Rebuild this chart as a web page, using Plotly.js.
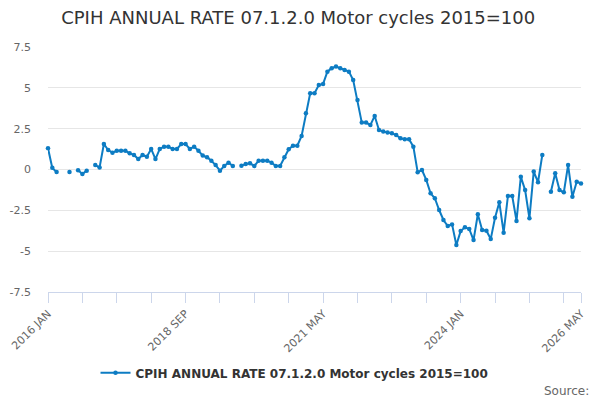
<!DOCTYPE html>
<html>
<head>
<meta charset="utf-8">
<script src="https://cdn.plot.ly/plotly-3.0.1.min.js"></script>
<style>
  html, body { margin: 0; padding: 0; background: #fff; }
  #chart { width: 600px; height: 400px; }
</style>
</head>
<body>
<div id="chart"></div>
<script>
// monthly series, 2016 JAN .. 2026 MAY (null = no figure published)
const startYear = 2016;
const monthNames = ['JAN','FEB','MAR','APR','MAY','JUN','JUL','AUG','SEP','OCT','NOV','DEC'];

const values = [
  1.3, 0.1, -0.15, null, null, -0.15, null, -0.05, -0.28, -0.07, null, 0.27,   // 2016
  0.13, 1.56, 1.19, 1.03, 1.15, 1.15, 1.15, 0.99, 0.89, 0.64, 0.89, 0.78,       // 2017
  1.26, 0.64, 1.26, 1.4, 1.4, 1.26, 1.26, 1.56, 1.56, 1.26, 1.4, 1.15,          // 2018
  0.85, 0.75, 0.54, 0.27, -0.07, 0.21, 0.42, 0.21, null, 0.23, 0.34, 0.38,      // 2019
  0.21, 0.54, 0.54, 0.54, 0.42, 0.21, 0.21, 0.75, 1.24, 1.46, 1.46, 2.05,       // 2020
  3.44, 4.67, 4.67, 5.17, 5.24, 5.99, 6.2, 6.3, 6.2, 6.09, 5.99, 5.48,          // 2021
  4.26, 2.87, 2.87, 2.72, 3.28, 2.42, 2.32, 2.26, 2.22, 2.11, 1.91, 1.85,       // 2022
  1.85, 1.4, -0.17, -0.03, -0.64, -1.46, -1.76, -2.48, -3.09, -3.46, -3.36, -4.62, // 2023
  -3.77, -3.54, -3.64, -4.32, -2.74, -3.7, -3.75, -4.26, -2.95, -2.01, -3.87, -1.62, // 2024
  -1.62, -3.15, -0.44, -1.26, -2.99, -0.13, -0.78, 0.89, null, -1.36, -0.23, -1.26,  // 2025
  -1.4, 0.27, -1.67, -0.75, -0.85                                                 // 2026
];

const months = values.map((v, i) =>
  (startYear + Math.floor(i / 12)) + ' ' + monthNames[i % 12]);

// tick marks every 8 months, labels every 32, plus the last month
const tickEvery = 8;
const labelEvery = 32;
const tickIdx = [];
for (let i = 0; i < months.length; i += tickEvery) tickIdx.push(i);
if (tickIdx[tickIdx.length - 1] !== months.length - 1) tickIdx.push(months.length - 1);
const tickVals = tickIdx.map(i => months[i]);
const tickText = tickIdx.map(i =>
  (i % labelEvery === 0 || i === months.length - 1) ? months[i] : '');

const yTicks = [7.5, 5, 2.5, 0, -2.5, -5, -7.5];
const yLabels = ['7.5', '5', '2.5', '0', '-2.5', '-5', '-7.5'];

const seriesName = 'CPIH ANNUAL RATE 07.1.2.0 Motor cycles 2015=100';
const lineColor = '#0d7cc3';
const font = 'DejaVu Sans, sans-serif';

const trace = {
  name: seriesName,
  x: months,
  y: values,
  type: 'scatter',
  mode: 'lines+markers',
  line: { color: lineColor, width: 2 },
  marker: { color: lineColor, size: 4.5 },
  connectgaps: false,
  cliponaxis: false,
  hoverinfo: 'skip'
};

const layout = {
  width: 600,
  height: 400,
  margin: { l: 48, r: 19, t: 47, b: 108, pad: 0 },
  paper_bgcolor: '#fff',
  plot_bgcolor: '#fff',
  font: { family: font, color: '#666', size: 11 },
  title: {
    text: seriesName,
    font: { family: font, size: 18, color: '#333' },
    x: 0.497, xanchor: 'center',
    y: 0.955, yanchor: 'middle'
  },
  showlegend: true,
  legend: {
    orientation: 'h',
    x: 0.4625, xanchor: 'center',
    y: -0.33, yanchor: 'middle',
    font: { family: font, size: 12, color: '#333', weight: 'bold' },
    itemwidth: 30
  },
  xaxis: {
    type: 'category',
    categoryorder: 'array',
    categoryarray: months,
    range: [0, months.length - 1],
    showgrid: false,
    zeroline: false,
    showline: true,
    linecolor: '#ccd6eb',
    linewidth: 1,
    ticks: 'outside',
    ticklen: 10,
    tickcolor: '#ccd6eb',
    tickvals: tickVals,
    ticktext: tickText,
    tickangle: -45,
    tickfont: { family: font, size: 11, color: '#666' }
  },
  yaxis: {
    range: [-7.5, 7.5],
    tickvals: yTicks,
    ticktext: yLabels,
    showgrid: true,
    gridcolor: '#e6e6e6',
    gridwidth: 1,
    zeroline: false,
    showline: false,
    ticks: '',
    ticklabelstandoff: 16,
    tickfont: { family: font, size: 11, color: '#666' }
  },
  annotations: [{
    text: 'Source:',
    xref: 'paper', yref: 'paper',
    x: 1.018, xanchor: 'right',
    y: -0.404, yanchor: 'middle',
    showarrow: false,
    font: { family: font, size: 12, color: '#666' }
  }]
};

Plotly.newPlot('chart', [trace], layout, { displayModeBar: false, staticPlot: true });
</script>
</body>
</html>
